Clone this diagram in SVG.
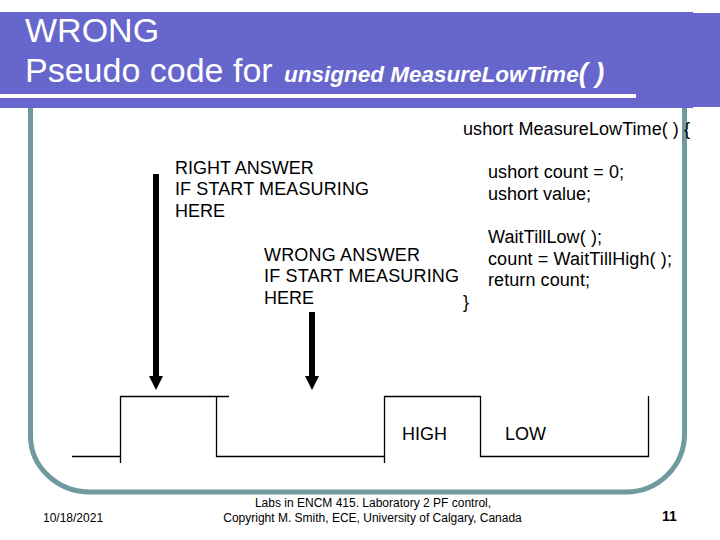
<svg xmlns="http://www.w3.org/2000/svg" width="720" height="540" viewBox="0 0 720 540">
<style>
text{font-family:"Liberation Sans",Arial,sans-serif;fill:#000}
.t{font-size:34px;fill:#fff}
.b{font-size:18px}
.f{font-size:12px}
.s{fill:none;stroke:#000;stroke-width:1.3}
.ar{stroke:#000;stroke-width:6;fill:none;marker-end:url(#a)}
</style>
<defs><marker id="a" markerUnits="userSpaceOnUse" markerWidth="15" markerHeight="15" refX="0" refY="7.500" orient="auto"><path d="M0 0.500L14 7.500L0 14.500Z" fill="#000"/></marker></defs>
<rect width="720" height="540" fill="#fff"/>
<rect x="0" y="12" width="693" height="96" fill="#6666cc"/>
<rect x="693" y="13" width="27" height="94" fill="#6666cc"/>
<rect x="0" y="94" width="636" height="4" fill="#fff"/>
<path d="M30.500 108V436A60 56 0 0 0 90.500 492H626A58.500 58 0 0 0 684.500 434V108" fill="none" stroke="#6f9a9e" stroke-width="5"/>
<text class="t" x="25" y="42">WRONG</text>
<text class="t" x="25" y="82">Pseudo code for</text>
<text x="284" y="82" font-size="22.500" font-weight="bold" font-style="italic" style="fill:#fff">unsigned MeasureLowTime<tspan font-size="27">( )</tspan></text>
<g id="code">
<text class="b" x="463" y="135" textLength="227">ushort MeasureLowTime( ) {</text>
<text class="b" x="488" y="178" textLength="136">ushort count = 0;</text>
<text class="b" x="488" y="200" textLength="103">ushort value;</text>
<text class="b" x="488" y="243" textLength="114">WaitTillLow( );</text>
<text class="b" x="488" y="265" textLength="184">count = WaitTillHigh( );</text>
<text class="b" x="488" y="286" textLength="102">return count;</text>
<text class="b" x="463" y="308">}</text>
</g>
<g id="right-answer">
<text class="b" x="175" y="174">RIGHT ANSWER</text>
<text class="b" x="175" y="195" textLength="194">IF START MEASURING</text>
<text class="b" x="175" y="217">HERE</text>
</g>
<g id="wrong-answer">
<text class="b" x="264" y="261" textLength="156">WRONG ANSWER</text>
<text class="b" x="264" y="282" textLength="195">IF START MEASURING</text>
<text class="b" x="264" y="304">HERE</text>
</g>
<g id="connectors">
<path class="ar" d="M156 174V376"/>
<path class="ar" d="M312 312V376"/>
</g>
<g id="waveform">
<path class="s" d="M72 456.500H120.500M120.500 463V396.500H229M216.500 396.500V456.500H384.500M384.500 463V396.500H480.500V456.500H648.500V396"/>
<text class="b" x="402" y="440">HIGH</text>
<text class="b" x="505" y="440">LOW</text>
</g>
<g id="footer">
<text class="f" x="43" y="522">10/18/2021</text>
<text class="f" x="373" y="507" text-anchor="middle">Labs in ENCM 415. Laboratory 2 PF control,</text>
<text class="f" x="372.500" y="522" text-anchor="middle">Copyright M. Smith, ECE, University of Calgary, Canada</text>
<text x="662" y="521" font-size="14" font-weight="bold">11</text>
</g>
</svg>
